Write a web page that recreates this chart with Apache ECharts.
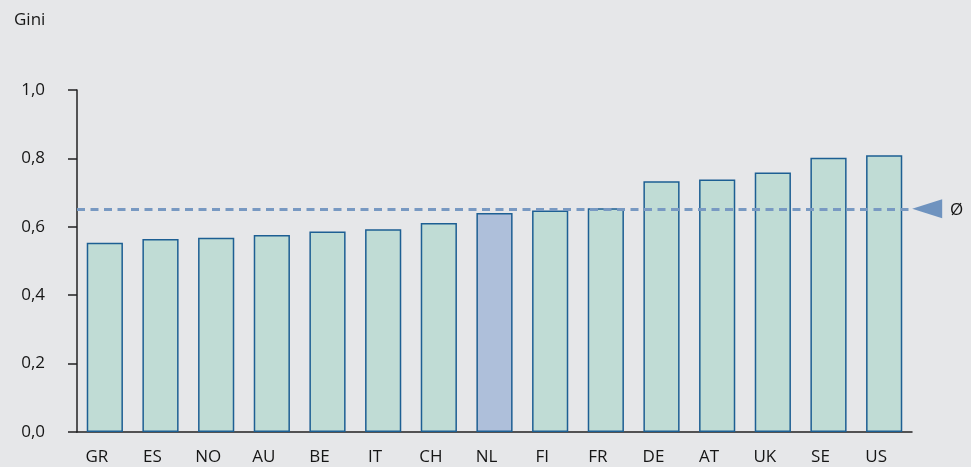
<!DOCTYPE html>
<html lang="de">
<head>
    <meta charset="UTF-8">
    <title>Gini</title>
    <script src="https://cdn.jsdelivr.net/npm/echarts@6/dist/echarts.min.js"></script>
    <style>
        html, body { margin: 0; padding: 0; background: #e6e7e9; }
        #main { width: 971px; height: 467px; }
    </style>
</head>
<body>
    <div id="main"></div>
    <script>
        // Länder und Gini-Werte
        var countries = ['GR', 'ES', 'NO', 'AU', 'BE', 'IT', 'CH', 'NL', 'FI', 'FR', 'DE', 'AT', 'UK', 'SE', 'US'];
        var gini = [0.553, 0.564, 0.568, 0.576, 0.586, 0.593, 0.611, 0.640, 0.648, 0.654, 0.733, 0.738, 0.759, 0.802, 0.809];
        var highlight = 'NL';
        var average = 0.653;

        var textColor = '#161616';
        var font = '"Open Sans", sans-serif';

        var mychart = echarts.init(document.getElementById('main'));

        var barData = countries.map(function (c, i) {
            var item = { value: gini[i] };
            if (c === highlight) {
                item.itemStyle = { color: '#aebfda' };
            }
            return item;
        });

        var option = {
            backgroundColor: '#e6e7e9',
            animation: false,
            title: {
                text: 'Gini',
                left: 9,
                top: 7,
                textStyle: { color: textColor, fontSize: 17, fontWeight: 'normal', fontFamily: font }
            },
            grid: { left: 77, right: 59, top: 90, bottom: 35 },
            xAxis: {
                type: 'category',
                data: countries,
                axisLine: { lineStyle: { color: '#222', width: 1.5 } },
                axisTick: { show: false },
                axisLabel: {
                    color: textColor,
                    fontSize: 17,
                    fontFamily: font,
                    margin: 17,
                    padding: [0, 16, 0, 0]
                }
            },
            yAxis: {
                type: 'value',
                min: 0,
                max: 1,
                interval: 0.2,
                splitLine: { show: false },
                axisLine: { show: true, lineStyle: { color: '#222', width: 1.5 } },
                axisTick: { show: true, length: 9, lineStyle: { color: '#222', width: 1.5 } },
                axisLabel: {
                    color: textColor,
                    fontSize: 17,
                    fontFamily: font,
                    margin: 32,
                    padding: [0, 0, 8, 0],
                    formatter: function (v) { return v.toFixed(1).replace('.', ','); }
                }
            },
            series: [{
                type: 'bar',
                data: barData,
                barCategoryGap: '35%',
                itemStyle: { color: '#c0dcd5', borderColor: '#1d5f93', borderWidth: 1.5 },
                markLine: {
                    silent: true,
                    symbol: 'none',
                    lineStyle: { color: '#7899c2', width: 3, type: [8, 5.5], opacity: 1 },
                    label: {
                        show: true,
                        position: 'end',
                        distance: 38,
                        formatter: 'Ø',
                        color: textColor,
                        fontSize: 17,
                        fontFamily: font
                    },
                    data: [{ yAxis: average }]
                },
                // Dreieck rechts neben der Durchschnittslinie
                markPoint: {
                    silent: true,
                    symbol: 'triangle',
                    symbolSize: [19, 30],
                    symbolRotate: 90,
                    symbolOffset: [43, 0],
                    itemStyle: { color: '#6f93bf' },
                    label: { show: false },
                    data: [{ xAxis: countries.length - 1, yAxis: average }]
                }
            }]
        };

        mychart.setOption(option);
    </script>
</body>
</html>
